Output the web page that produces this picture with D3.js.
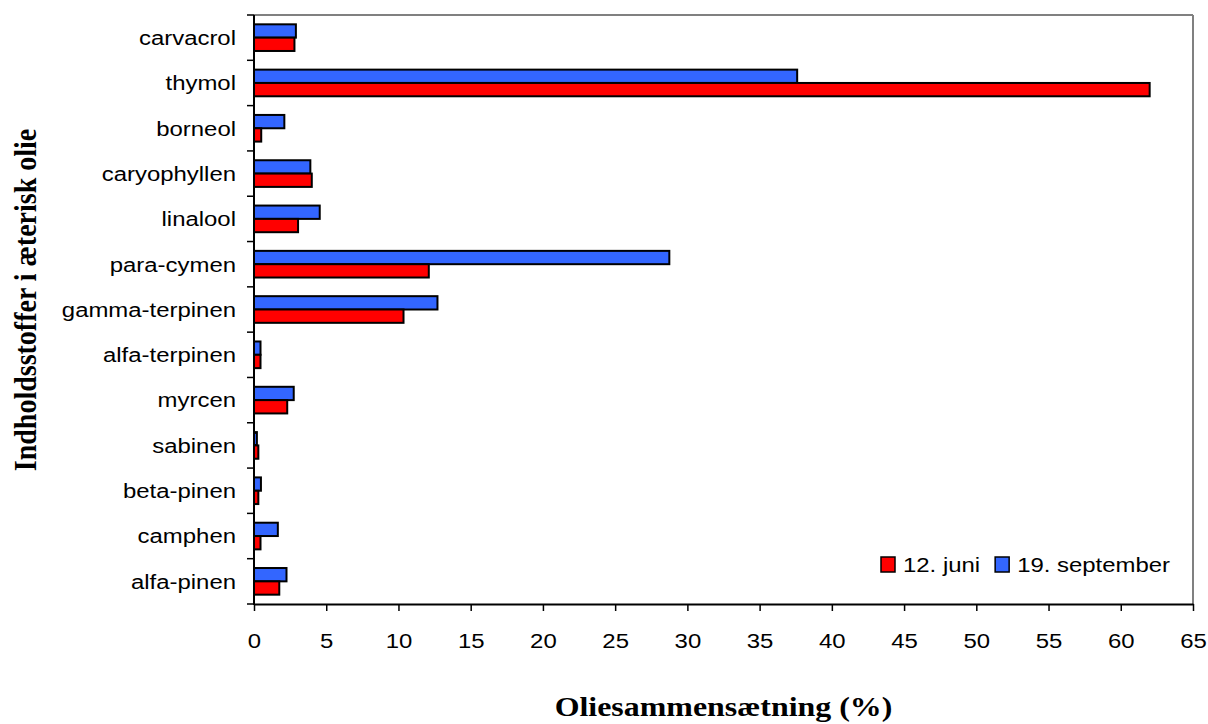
<!DOCTYPE html>
<html>
<head>
<meta charset="utf-8">
<script src="https://cdn.jsdelivr.net/npm/d3@7"></script>
<style>
  html, body { margin: 0; padding: 0; background: #fff; }
  svg { display: block; }
</style>
</head>
<body>
<svg id="chart" width="1208" height="724"></svg>
<script>
// ---- data ----
const categories = ["carvacrol", "thymol", "borneol", "caryophyllen", "linalool", "para-cymen",
  "gamma-terpinen", "alfa-terpinen", "myrcen", "sabinen", "beta-pinen", "camphen", "alfa-pinen"];
const juni = [2.8, 62.0, 0.5, 4.0, 3.05, 12.1, 10.35, 0.45, 2.3, 0.3, 0.3, 0.45, 1.75];
const september = [2.9, 37.6, 2.1, 3.9, 4.55, 28.75, 12.7, 0.45, 2.75, 0.2, 0.48, 1.65, 2.25];
const seriesNames = ["12. juni", "19. september"];
const xTicks = [0, 5, 10, 15, 20, 25, 30, 35, 40, 45, 50, 55, 60, 65];
const xTitle = "Oliesammensætning (%)";
const yTitle = "Indholdsstoffer i æterisk olie";

// ---- layout ----
const SX = 1.14; // horizontal stretch of the original's text
const L = 254, R = 1193, T = 15, B = 604;
const colors = { "12. juni": "#ff0000", "19. september": "#3366ff" };

const svg = d3.select("#chart");
const x = d3.scaleLinear().domain([0, 65]).range([L, R]);
const y = d3.scaleBand().domain(categories).range([T, B]).padding(0);
const yInner = d3.scaleBand().domain(["19. september", "12. juni"])
  .range([0, y.bandwidth()]).paddingInner(0).paddingOuter(0.7);

const rows = categories.map((c, i) => ({ cat: c, "12. juni": juni[i], "19. september": september[i] }));

// frame (top & right gray)
svg.append("line").attr("x1", L).attr("x2", R).attr("y1", T).attr("y2", T)
  .attr("stroke", "#808080").attr("stroke-width", 2);
svg.append("line").attr("x1", R).attr("x2", R).attr("y1", T).attr("y2", B)
  .attr("stroke", "#808080").attr("stroke-width", 2);

// bars
const g = svg.append("g");
rows.forEach(r => {
  ["19. september", "12. juni"].forEach(s => {
    g.append("rect")
      .attr("x", x(0))
      .attr("y", y(r.cat) + yInner(s))
      .attr("width", x(r[s]) - x(0))
      .attr("height", yInner.bandwidth())
      .attr("fill", colors[s])
      .attr("stroke", "#000")
      .attr("stroke-width", 2);
  });
});

// x axis
const xAxis = svg.append("g").attr("transform", `translate(0,${B})`)
  .call(d3.axisBottom(x).tickValues(xTicks).tickSize(7).tickSizeOuter(0).tickFormat(d3.format("d")));
xAxis.select(".domain").attr("stroke", "#000").attr("stroke-width", 2);
xAxis.selectAll(".tick line").attr("stroke", "#000").attr("stroke-width", 1.5);
xAxis.selectAll(".tick text")
  .attr("y", null).attr("dy", null)
  .attr("transform", `translate(0,44) scale(${SX},1)`)
  .attr("font-family", "Liberation Sans, Arial, sans-serif")
  .attr("font-size", 21).attr("fill", "#000");

// y axis line
svg.append("line").attr("x1", L).attr("x2", L).attr("y1", T).attr("y2", B + 1)
  .attr("stroke", "#000").attr("stroke-width", 2);
// y tick marks at category boundaries
const bounds = d3.range(categories.length + 1).map(i => T + i * y.step());
svg.selectAll(".ytick").data(bounds).enter().append("line")
  .attr("x1", L - 7).attr("x2", L).attr("y1", d => d).attr("y2", d => d)
  .attr("stroke", "#000").attr("stroke-width", 1.5);
// category labels
svg.selectAll(".ylab").data(categories).enter().append("text")
  .attr("transform", d => `translate(${L - 18},${y(d) + y.bandwidth() / 2}) scale(${SX},1)`)
  .attr("dy", "0.35em")
  .attr("text-anchor", "end")
  .attr("font-family", "Liberation Sans, Arial, sans-serif")
  .attr("font-size", 21).attr("fill", "#000")
  .text(d => d);

// titles
svg.append("text")
  .attr("transform", `translate(${(L + R) / 2},716) scale(${SX},1)`)
  .attr("text-anchor", "middle")
  .attr("font-family", "Liberation Serif, Times New Roman, serif")
  .attr("font-weight", "bold").attr("font-size", 28).attr("fill", "#000")
  .text(xTitle);
svg.append("text")
  .attr("transform", `translate(36,300) scale(${SX},1) rotate(-90)`)
  .attr("text-anchor", "middle")
  .attr("font-family", "Liberation Serif, Times New Roman, serif")
  .attr("font-weight", "bold").attr("font-size", 28).attr("fill", "#000")
  .text(yTitle);

// legend
const leg = svg.append("g").attr("transform", "translate(881,557)");
let lx = 0;
seriesNames.forEach(s => {
  leg.append("rect").attr("x", lx).attr("y", 0).attr("width", 14).attr("height", 15)
    .attr("fill", colors[s]).attr("stroke", "#000").attr("stroke-width", 1.5);
  const t = leg.append("text")
    .attr("transform", `translate(${lx + 22},15) scale(${SX},1)`)
    .attr("font-family", "Liberation Sans, Arial, sans-serif")
    .attr("font-size", 21).attr("fill", "#000")
    .text(s);
  lx += 22 + t.node().getComputedTextLength() * SX + 15;
});
</script>
</body>
</html>
